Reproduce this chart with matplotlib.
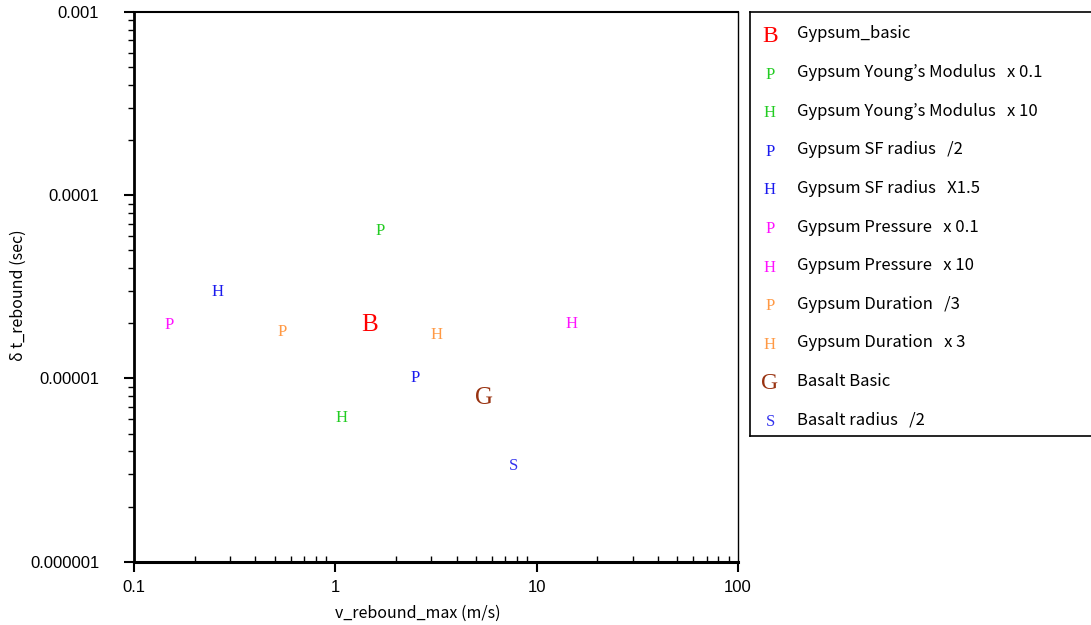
import numpy as np
import matplotlib
matplotlib.use("Agg")
import matplotlib.pyplot as plt
from matplotlib.ticker import LogLocator, FixedLocator, FixedFormatter, NullFormatter
from matplotlib.transforms import ScaledTranslation

# case names, symbols and colours as in the legend
labels = ["Gypsum_basic",
          "Gypsum Young\u2019s Modulus   x 0.1",
          "Gypsum Young\u2019s Modulus   x 10",
          "Gypsum SF radius   /2",
          "Gypsum SF radius   X1.5",
          "Gypsum Pressure   x 0.1",
          "Gypsum Pressure   x 10",
          "Gypsum Duration   /3",
          "Gypsum Duration   x 3",
          "Basalt Basic",
          "Basalt radius   /2"]
letters = ["B", "P", "H", "P", "H", "P", "H", "P", "H", "G", "S"]
colors = ["#ff0000", "#22cc22", "#22cc22", "#1a1aee", "#1a1aee",
          "#ff11ff", "#ff11ff", "#ff9944", "#ff9944", "#993311", "#3333ee"]
big = [True, False, False, False, False, False, False, False, False, True, False]

# values
v_max = [1.48, 1.66, 1.07, 2.50, 0.259, 0.149, 14.9, 0.544, 3.18, 5.45, 7.69]
dt_reb = [2.01e-5, 6.55e-5, 6.25e-6, 1.03e-5, 3.04e-5, 2.01e-5, 2.04e-5,
          1.84e-5, 1.77e-5, 8.03e-6, 3.42e-6]

xticks = [0.1, 1, 10, 100]
xticklabels = ["0.1", "1", "10", "100"]
yticks = [1e-6, 1e-5, 1e-4, 1e-3]
yticklabels = ["0.000001", "0.00001", "0.0001", "0.001"]

serif = "Liberation Serif"
gothic = ["Noto Sans CJK JP", "DejaVu Sans"]

fig = plt.figure(figsize=(10.91, 6.25), dpi=100)
ax = fig.add_axes([134 / 1091, 1 - 561.7 / 625, 604 / 1091, 549.7 / 625])
ax.set_xscale("log")
ax.set_yscale("log")
ax.set_xlim(0.1, 100)
ax.set_ylim(1e-6, 1e-3)

# nudge letters down a bit so the glyph (not its box) sits on the value
shift = ax.transData + ScaledTranslation(0, -2 / 100, fig.dpi_scale_trans)
for v, dt, let, c, b in zip(v_max, dt_reb, letters, colors, big):
    ax.text(v, dt, let, color=c, fontsize=18 if b else 12, family=serif,
            ha="center", va="center", transform=shift)

ax.xaxis.set_major_locator(FixedLocator(xticks))
ax.xaxis.set_major_formatter(FixedFormatter(xticklabels))
ax.xaxis.set_minor_locator(LogLocator(base=10, subs=np.arange(2, 10)))
ax.xaxis.set_minor_formatter(NullFormatter())
ax.yaxis.set_major_locator(FixedLocator(yticks))
ax.yaxis.set_major_formatter(FixedFormatter(yticklabels))
ax.yaxis.set_minor_locator(LogLocator(base=10, subs=np.arange(2, 10)))
ax.yaxis.set_minor_formatter(NullFormatter())

ax.tick_params(axis="x", which="major", direction="out", length=7, width=1.5, pad=6)
ax.tick_params(axis="x", which="minor", direction="in", length=4, width=1)
ax.tick_params(axis="y", which="major", direction="out", length=7, width=1.5, pad=18)
ax.tick_params(axis="y", which="minor", direction="out", length=4, width=1)
for lab in ax.get_xticklabels() + ax.get_yticklabels():
    lab.set_family("Liberation Sans")
    lab.set_fontsize(12)

ax.spines["left"].set_linewidth(2)
ax.spines["bottom"].set_linewidth(2.2)
ax.spines["top"].set_linewidth(1.5)
ax.spines["right"].set_linewidth(1)

ax.set_xlabel("v_rebound_max (m/s)", family=gothic, fontsize=11.5)
ax.set_ylabel("\u03b4 t_rebound (sec)", family=gothic, fontsize=11.5)
ax.xaxis.set_label_coords(0.47, -0.078)
ax.yaxis.set_label_coords(-0.178, 0.485)

# legend panel drawn by hand
lg = fig.add_axes([750 / 1091, 1 - 436 / 625, 0.32, 424 / 625])
lg.set_xlim(0, 1)
lg.set_ylim(0, 1)
lg.set_xticks([])
lg.set_yticks([])
for s in lg.spines.values():
    s.set_linewidth(1.2)
n = len(labels)
for i in range(n):
    y = 1 - (22 + 38.6 * i) / 424
    lg.text(20 / 349, y - 2 / 424, letters[i], color=colors[i], family=serif,
            fontsize=17 if big[i] else 12, ha="center", va="center")
    lg.text(47 / 349, y, labels[i], family=gothic, fontsize=12,
            ha="left", va="center")

fig.savefig("out.png", dpi=100)
